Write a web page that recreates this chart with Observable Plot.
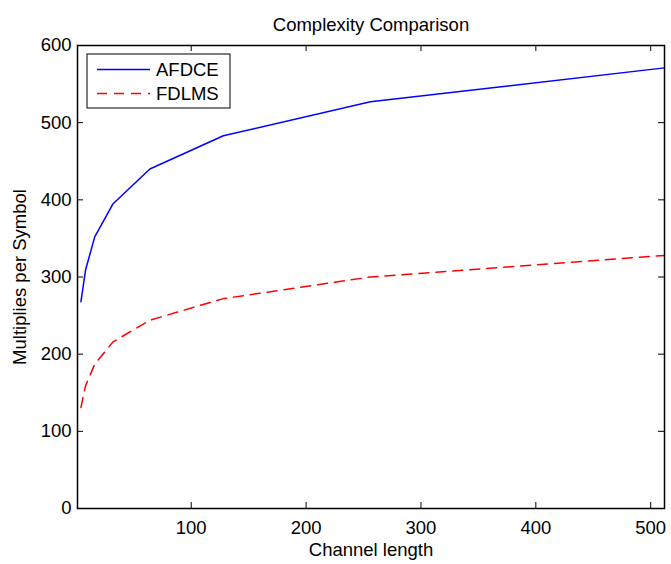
<!DOCTYPE html>
<html>
<head>
<meta charset="utf-8">
<script src="https://cdn.jsdelivr.net/npm/d3@7"></script>
<script src="https://cdn.jsdelivr.net/npm/@observablehq/plot@0.6"></script>
<style>
  html, body { margin: 0; padding: 0; background: #fff; }
  #chart { width: 671px; height: 564px; }
</style>
</head>
<body>
<div id="chart"></div>
<script>
// Data
const channelLength = [4, 8, 16, 32, 64, 128, 256, 512];
const afdce = [268, 309, 352, 395, 440, 483, 527, 571];
const fdlms = [131, 159, 187, 216, 244, 272, 300, 328];
const seriesNames = ["AFDCE", "FDLMS"];
const seriesColors = ["#0000ff", "#ff0000"];
const seriesDash = [null, "10,7"];
const xTicks = [100, 200, 300, 400, 500];
const yTicks = [0, 100, 200, 300, 400, 500, 600];
const titleText = "Complexity Comparison";
const xLabel = "Channel length";
const yLabel = "Multiplies per Symbol";

const rows = [];
channelLength.forEach((x, i) => {
  rows.push({x, y: afdce[i], s: seriesNames[0]});
  rows.push({x, y: fdlms[i], s: seriesNames[1]});
});

const font = "'Liberation Sans', Arial, Helvetica, sans-serif";
const fs = 18.5;
const xMin = 1, xMax = 512, yMin = 0, yMax = 600;
const tk = 6;

const plot = Plot.plot({
  width: 671,
  height: 564,
  marginLeft: 77,
  marginRight: 7,
  marginTop: 45,
  marginBottom: 56,
  style: {fontFamily: font, fontSize: fs + "px", background: "#fff", color: "#000", overflow: "visible"},
  x: {domain: [xMin, xMax], ticks: xTicks},
  y: {domain: [yMin, yMax], ticks: yTicks},
  marks: [
    Plot.line(rows.filter(d => d.s === seriesNames[0]), {x: "x", y: "y", stroke: seriesColors[0], strokeWidth: 1.5}),
    Plot.line(rows.filter(d => d.s === seriesNames[1]), {x: "x", y: "y", stroke: seriesColors[1], strokeWidth: 1.5, strokeDasharray: seriesDash[1]}),
    Plot.axisX(xTicks, {tickSize: 0, tickPadding: 12, label: null, fontSize: fs}),
    Plot.axisY(yTicks, {tickSize: 0, tickPadding: 6, label: null, fontSize: fs}),
    // inward ticks (MATLAB style)
    Plot.ruleX(xTicks, {x: d => d, y1: yMin, y2: yMin, insetBottom: tk, stroke: "#000", strokeWidth: 1}),
    Plot.ruleX(xTicks, {x: d => d, y1: yMax, y2: yMax, insetBottom: -tk, stroke: "#000", strokeWidth: 1}),
    Plot.ruleY(yTicks, {y: d => d, x1: xMin, x2: xMin, insetRight: -tk, stroke: "#000", strokeWidth: 1}),
    Plot.ruleY(yTicks, {y: d => d, x1: xMax, x2: xMax, insetLeft: -tk, stroke: "#000", strokeWidth: 1}),
    Plot.frame({stroke: "#000", strokeWidth: 1.5}),
    Plot.text([titleText], {frameAnchor: "top", dy: -28, lineAnchor: "top", fontSize: fs, fill: "#000"}),
    Plot.text([xLabel], {frameAnchor: "bottom", dy: 47, lineAnchor: "bottom", fontSize: fs, fill: "#000"}),
    Plot.text([yLabel], {frameAnchor: "left", dx: -57, rotate: -90, textAnchor: "middle", lineAnchor: "middle", fontSize: fs, fill: "#000"})
  ]
});

// Legend
const svg = d3.select(plot);
const lg = svg.append("g").attr("transform", "translate(87,54)");
lg.append("rect").attr("width", 143).attr("height", 54).attr("fill", "#fff").attr("stroke", "#000").attr("stroke-width", 1);
seriesNames.forEach((name, i) => {
  const cy = 15.5 + i * 24;
  const line = lg.append("line").attr("x1", 10).attr("x2", 63).attr("y1", cy).attr("y2", cy)
    .attr("stroke", seriesColors[i]).attr("stroke-width", 1.5);
  if (seriesDash[i]) line.attr("stroke-dasharray", seriesDash[i]);
  lg.append("text").attr("x", 69).attr("y", cy).attr("dy", "0.35em")
    .attr("text-anchor", "start")
    .attr("font-size", fs).attr("font-family", font).attr("fill", "#000").text(name);
});

document.getElementById("chart").appendChild(plot);
</script>
</body>
</html>
